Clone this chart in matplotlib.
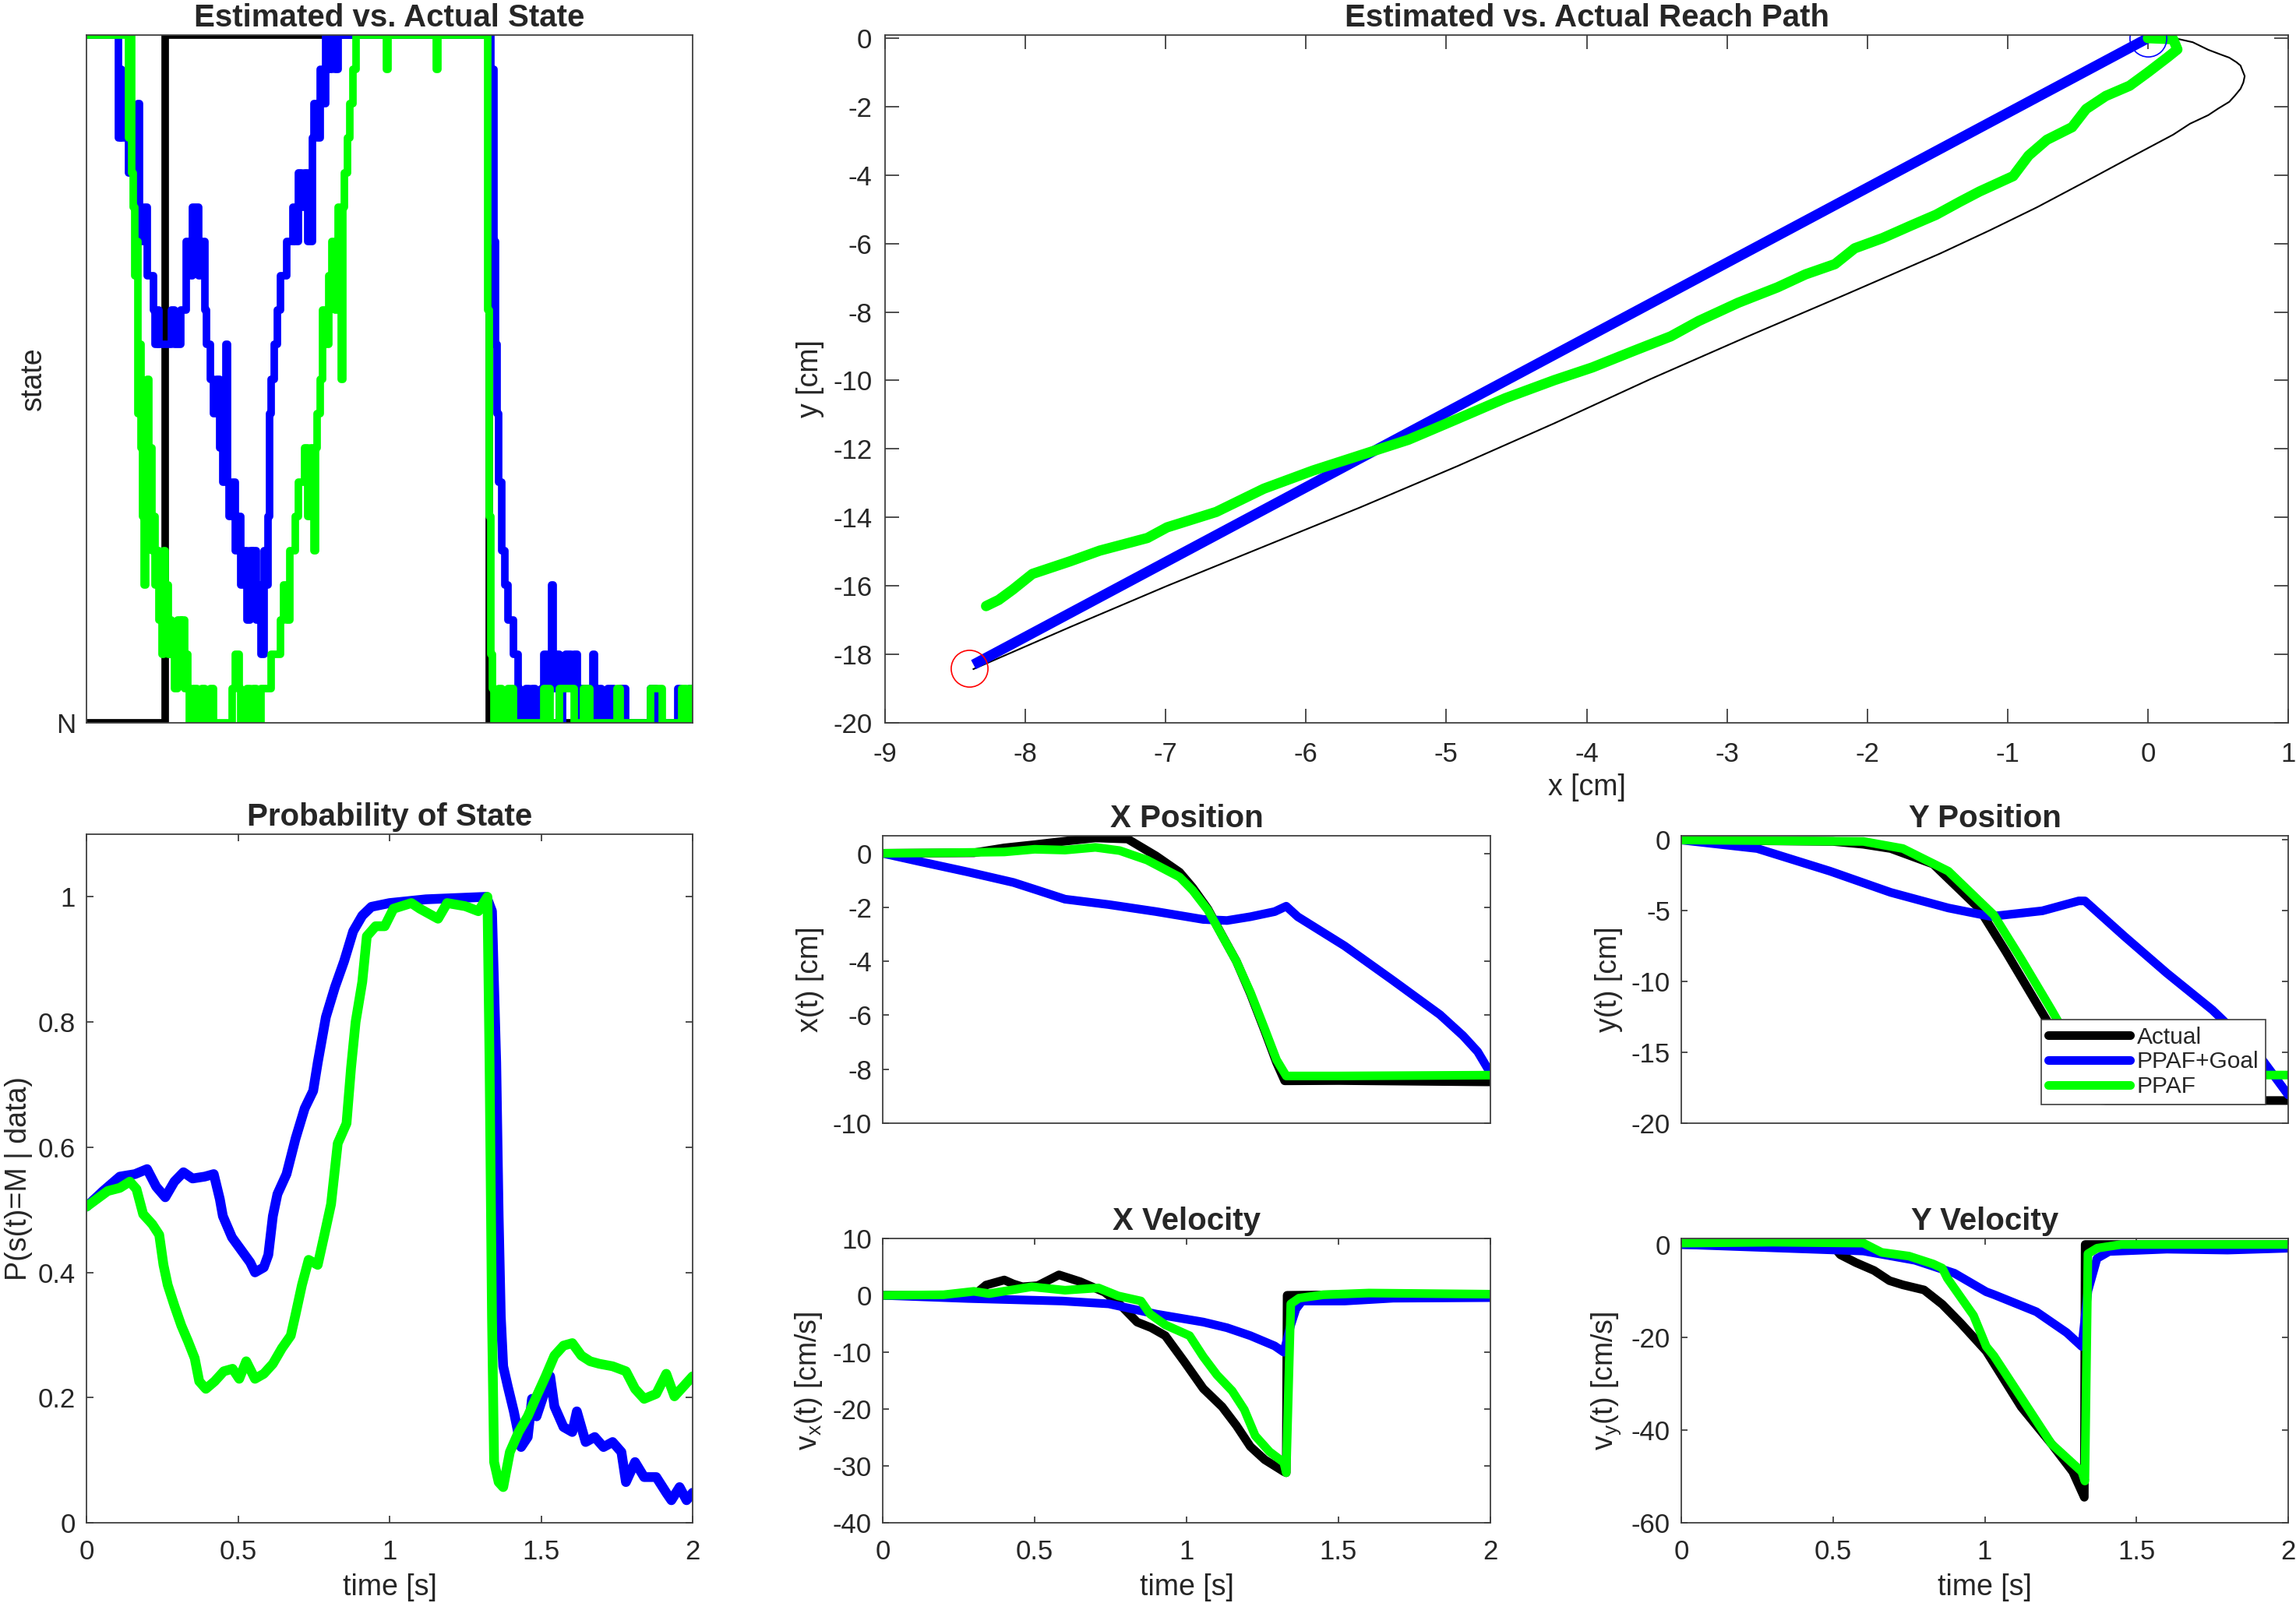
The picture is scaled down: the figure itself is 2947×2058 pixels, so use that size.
import matplotlib.pyplot as plt
import numpy as np

plt.rcParams['font.family'] = ['Liberation Sans', 'DejaVu Sans']
plt.rcParams['axes.unicode_minus'] = False
plt.rcParams['mathtext.default'] = 'regular'

# ---------------- datos ----------------
# estado real / estimado (escalones)
t_estado_real = [0, 0.26, 0.26, 1.328, 1.328, 2.0]
estado_real = [0, 0, 1, 1, 0, 0]

t_estado_goal = [0, 0.105, 0.11, 0.115, 0.12, 0.14, 0.145, 0.17, 0.175, 0.18, 0.19, 0.2, 0.205, 0.22,
                 0.225, 0.235, 0.24, 0.25, 0.28, 0.29, 0.31, 0.33, 0.345, 0.35, 0.37, 0.375, 0.39, 0.395,
                 0.41, 0.42, 0.43, 0.44, 0.45, 0.46, 0.465, 0.47, 0.48, 0.49, 0.5, 0.51, 0.52, 0.53, 0.54,
                 0.545, 0.55, 0.56, 0.57, 0.575, 0.585, 0.59, 0.6, 0.605, 0.61, 0.62, 0.63, 0.64, 0.66,
                 0.68, 0.69, 0.7, 0.71, 0.72, 0.73, 0.745, 0.75, 0.76, 0.77, 0.78, 0.79, 0.8, 0.81, 0.82,
                 0.83, 0.84, 1.335, 1.345, 1.35, 1.355, 1.36, 1.37, 1.38, 1.39, 1.41, 1.425, 1.43, 1.45,
                 1.46, 1.47, 1.48, 1.5, 1.51, 1.52, 1.535, 1.54, 1.55, 1.56, 1.57, 1.58, 1.6, 1.61, 1.62,
                 1.63, 1.66, 1.67, 1.675, 1.69, 1.7, 1.72, 1.74, 1.76, 1.78, 1.86, 1.88, 1.95, 1.96, 1.99, 2.0]
estado_goal = [1.0, 0.85, 0.95, 0.85, 0.85, 0.8, 0.8, 0.9, 0.75, 0.7, 0.75, 0.65, 0.65, 0.6,
               0.55, 0.6, 0.55, 0.55, 0.6, 0.55, 0.6, 0.7, 0.65, 0.75, 0.65, 0.7, 0.6, 0.55,
               0.5, 0.45, 0.5, 0.4, 0.35, 0.55, 0.35, 0.3, 0.35, 0.25, 0.3, 0.2, 0.25, 0.15, 0.25,
               0.2, 0.25, 0.15, 0.2, 0.1, 0.25, 0.2, 0.3, 0.45, 0.5, 0.55, 0.6, 0.65, 0.7,
               0.75, 0.7, 0.8, 0.75, 0.8, 0.7, 0.85, 0.9, 0.85, 0.95, 0.9, 1.0, 0.95, 1.0, 0.95,
               1.0, 1.0, 0.95, 0.7, 0.55, 0.45, 0.35, 0.25, 0.2, 0.15, 0.1, 0.05, 0.0, 0.05,
               0.0, 0.05, 0.0, 0.05, 0.1, 0.05, 0.2, 0.05, 0.1, 0.0, 0.05, 0.1, 0.05, 0.1, 0.0,
               0.05, 0.0, 0.1, 0.0, 0.05, 0.0, 0.05, 0.0, 0.05, 0.0, 0.05, 0.0, 0.05, 0.0, 0.05, 0.0]

t_estado_ppaf = [0, 0.14, 0.145, 0.15, 0.155, 0.16, 0.165, 0.17, 0.175, 0.18, 0.185, 0.19, 0.195, 0.2,
                 0.205, 0.21, 0.215, 0.22, 0.225, 0.23, 0.24, 0.245, 0.25, 0.255, 0.26, 0.265, 0.27,
                 0.275, 0.28, 0.29, 0.3, 0.31, 0.315, 0.325, 0.33, 0.335, 0.34, 0.35, 0.365, 0.38, 0.39,
                 0.41, 0.42, 0.48, 0.49, 0.505, 0.51, 0.53, 0.54, 0.55, 0.56, 0.575, 0.58, 0.61, 0.64,
                 0.65, 0.66, 0.67, 0.69, 0.7, 0.72, 0.73, 0.74, 0.75, 0.755, 0.76, 0.77, 0.78, 0.79, 0.8,
                 0.81, 0.82, 0.83, 0.84, 0.845, 0.85, 0.86, 0.87, 0.88, 0.89, 0.99, 0.995, 1.155, 1.16,
                 1.325, 1.33, 1.335, 1.34, 1.345, 1.36, 1.37, 1.39, 1.41, 1.42, 1.51, 1.53, 1.56, 1.61,
                 1.64, 1.66, 1.75, 1.76, 1.86, 1.9, 1.965, 1.98, 1.99, 2.0]
estado_ppaf = [1.0, 0.85, 1.0, 0.8, 0.75, 0.65, 0.7, 0.45, 0.55, 0.4, 0.3, 0.2, 0.35, 0.5,
               0.3, 0.4, 0.25, 0.3, 0.2, 0.25, 0.15, 0.2, 0.1, 0.25, 0.15, 0.2, 0.1,
               0.15, 0.1, 0.05, 0.15, 0.1, 0.15, 0.05, 0.1, 0.05, 0.0, 0.05, 0.0, 0.05, 0.0,
               0.05, 0.0, 0.05, 0.1, 0.05, 0.0, 0.05, 0.0, 0.05, 0.0, 0.05, 0.05, 0.1, 0.15,
               0.2, 0.15, 0.25, 0.3, 0.35, 0.4, 0.3, 0.4, 0.25, 0.4, 0.45, 0.5, 0.6, 0.55, 0.65,
               0.7, 0.6, 0.75, 0.5, 0.75, 0.8, 0.85, 0.9, 0.95, 1.0, 0.95, 1.0, 0.95, 1.0,
               0.6, 0.3, 0.1, 0.05, 0.0, 0.05, 0.0, 0.05, 0.0, 0.0, 0.05, 0.0, 0.05, 0.0,
               0.05, 0.0, 0.05, 0.0, 0.05, 0.0, 0.05, 0.0, 0.05, 0.05]

# probabilidad P(s(t)=M | data)
t_prob_goal = [0, 0.055, 0.11, 0.16, 0.2, 0.23, 0.26, 0.29, 0.32, 0.35, 0.39, 0.42, 0.44, 0.45, 0.48,
               0.51, 0.54, 0.556, 0.585, 0.6, 0.615, 0.63, 0.66, 0.69, 0.72, 0.748, 0.763, 0.79, 0.82,
               0.85, 0.88, 0.91, 0.94, 1.0, 1.12, 1.32, 1.338, 1.352, 1.36, 1.367, 1.375, 1.39, 1.41,
               1.434, 1.456, 1.47, 1.485, 1.507, 1.53, 1.544, 1.574, 1.603, 1.618, 1.647, 1.677, 1.706,
               1.736, 1.765, 1.78, 1.81, 1.84, 1.88, 1.913, 1.93, 1.957, 1.98, 2.0]
prob_goal = [0.505, 0.53, 0.553, 0.557, 0.565, 0.537, 0.52, 0.545, 0.56, 0.55, 0.553, 0.557, 0.517, 0.49,
             0.456, 0.436, 0.416, 0.4, 0.408, 0.428, 0.49, 0.525, 0.557, 0.614, 0.662, 0.69, 0.735, 0.808,
             0.856, 0.897, 0.945, 0.97, 0.984, 0.99, 0.996, 1.0, 0.977, 0.735, 0.49, 0.33, 0.25, 0.218,
             0.178, 0.121, 0.137, 0.198, 0.17, 0.202, 0.234, 0.186, 0.153, 0.145, 0.178, 0.129, 0.137,
             0.121, 0.129, 0.113, 0.065, 0.097, 0.073, 0.073, 0.048, 0.036, 0.057, 0.036, 0.048]

t_prob_ppaf = [0, 0.07, 0.11, 0.143, 0.165, 0.187, 0.217, 0.24, 0.254, 0.268, 0.29, 0.313, 0.335, 0.357,
               0.372, 0.394, 0.423, 0.453, 0.482, 0.504, 0.527, 0.556, 0.585, 0.615, 0.645, 0.674, 0.689,
               0.711, 0.733, 0.763, 0.785, 0.807, 0.829, 0.858, 0.873, 0.888, 0.91, 0.925, 0.954, 0.984,
               1.013, 1.072, 1.1, 1.16, 1.19, 1.25, 1.293, 1.323, 1.33, 1.338, 1.345, 1.36, 1.375, 1.397,
               1.426, 1.456, 1.485, 1.515, 1.544, 1.574, 1.603, 1.633, 1.662, 1.692, 1.736, 1.78, 1.81,
               1.84, 1.88, 1.913, 1.94, 1.97, 2.0]
prob_ppaf = [0.505, 0.53, 0.535, 0.545, 0.533, 0.493, 0.477, 0.46, 0.412, 0.38, 0.347, 0.315, 0.29, 0.263,
             0.226, 0.214, 0.226, 0.242, 0.246, 0.23, 0.258, 0.23, 0.238, 0.254, 0.279, 0.299, 0.331,
             0.38, 0.42, 0.412, 0.46, 0.509, 0.606, 0.638, 0.727, 0.8, 0.864, 0.937, 0.953, 0.953,
             0.981, 0.99, 0.981, 0.965, 0.99, 0.985, 0.977, 1.0, 0.735, 0.33, 0.097, 0.065, 0.057, 0.113,
             0.145, 0.17, 0.202, 0.234, 0.267, 0.283, 0.287, 0.267, 0.258, 0.254, 0.25, 0.242, 0.214,
             0.198, 0.206, 0.238, 0.202, 0.218, 0.234]

# trayectoria (x, y) en cm
x_tray_real = [0, 0.19, 0.32, 0.43, 0.52, 0.58, 0.63, 0.66, 0.69, 0.68, 0.66, 0.62, 0.58, 0.5, 0.43, 0.3,
               0.18, -0.1, -0.44, -0.79, -1.13, -1.48, -2.16, -2.85, -3.54, -4.23, -4.92, -5.61, -6.3,
               -6.99, -7.68, -8.37]
y_tray_real = [0, 0.0, -0.12, -0.34, -0.48, -0.57, -0.7, -0.8, -1.11, -1.3, -1.48, -1.68, -1.86, -2.06,
               -2.25, -2.5, -2.82, -3.43, -4.18, -4.94, -5.62, -6.29, -7.5, -8.71, -9.95, -11.25, -12.5,
               -13.7, -14.85, -16.0, -17.2, -18.43]
x_tray_goal = [0, -8.37]
y_tray_goal = [0, -18.3]
x_tray_ppaf = [0, 0.18, 0.21, 0.14, 0.0, -0.13, -0.3, -0.44, -0.54, -0.72, -0.85, -0.96, -1.2, -1.34, -1.51,
               -1.68, -1.89, -2.09, -2.23, -2.44, -2.64, -2.92, -3.2, -3.4, -3.68, -3.96, -4.23, -4.58, -4.92,
               -5.27, -5.61, -5.95, -6.3, -6.64, -6.99, -7.13, -7.47, -7.68, -7.95, -8.09, -8.19, -8.28]
y_tray_ppaf = [0, -0.03, -0.33, -0.56, -1.0, -1.39, -1.69, -2.07, -2.6, -2.97, -3.43, -4.03, -4.48, -4.78,
               -5.16, -5.46, -5.84, -6.14, -6.6, -6.9, -7.28, -7.73, -8.26, -8.71, -9.16, -9.62, -9.99,
               -10.52, -11.12, -11.73, -12.18, -12.63, -13.16, -13.84, -14.29, -14.6, -14.97, -15.28,
               -15.65, -16.11, -16.41, -16.59]
inicio = (0.0, 0.0)
objetivo = (-8.4, -18.4)

# posicion x(t)
t_x_real = [0, 0.3, 0.4, 0.5, 0.6, 0.7, 0.806, 0.9, 0.977, 1.02, 1.07, 1.117, 1.164, 1.21, 1.257, 1.296,
            1.323, 1.5, 1.7, 2.0]
x_real = [0, 0.02, 0.2, 0.32, 0.45, 0.57, 0.53, -0.1, -0.7, -1.27, -2.06, -3.04, -4.0, -5.2, -6.57, -7.75,
          -8.43, -8.42, -8.44, -8.47]
t_x_goal = [0, 0.12, 0.28, 0.43, 0.51, 0.6, 0.744, 0.9, 1.055, 1.133, 1.21, 1.29, 1.328, 1.366, 1.52,
            1.678, 1.834, 1.91, 1.958, 2.0]
x_goal = [0, -0.3, -0.69, -1.08, -1.37, -1.7, -1.9, -2.16, -2.45, -2.49, -2.35, -2.16, -1.96, -2.35, -3.43,
          -4.7, -5.98, -6.76, -7.35, -8.14]
t_x_ppaf = [0, 0.2, 0.4, 0.5, 0.6, 0.7, 0.78, 0.87, 0.977, 1.02, 1.07, 1.117, 1.164, 1.21, 1.257, 1.296,
            1.328, 1.5, 2.0]
x_ppaf = [0, 0.02, 0.05, 0.15, 0.12, 0.22, 0.1, -0.25, -0.88, -1.37, -2.1, -3.05, -4.0, -5.15, -6.5, -7.65,
          -8.25, -8.25, -8.22]

# velocidad x
t_vx_real = [0, 0.3, 0.34, 0.4, 0.43, 0.46, 0.51, 0.58, 0.65, 0.73, 0.775, 0.837, 0.884, 0.93, 0.993, 1.055,
             1.117, 1.164, 1.21, 1.257, 1.32, 1.328, 1.331, 1.5, 2.0]
vx_real = [0, 0, 1.8, 2.7, 2.0, 1.5, 1.7, 3.6, 2.4, 0.56, -1.3, -4.7, -5.7, -7.1, -11.7, -16.4, -19.6, -22.9,
           -26.6, -28.9, -31.0, -31.2, 0, 0.1, 0.0]
t_vx_goal = [0, 0.28, 0.59, 0.744, 0.9, 1.055, 1.133, 1.21, 1.29, 1.32, 1.343, 1.36, 1.38, 1.52, 1.68, 2.0]
vx_goal = [0, -0.55, -1.0, -1.5, -3.3, -4.7, -5.7, -7.1, -8.9, -10.0, -5.2, -2.4, -1.0, -1.0, -0.5, -0.4]
t_vx_ppaf = [0, 0.2, 0.3, 0.35, 0.49, 0.6, 0.71, 0.775, 0.85, 0.88, 0.93, 1.01, 1.055, 1.1, 1.15, 1.19,
             1.226, 1.273, 1.32, 1.328, 1.343, 1.37, 1.45, 1.6, 2.0]
vx_ppaf = [0, 0.1, 0.7, 0.3, 1.5, 0.9, 1.3, -0.1, -1.0, -3.3, -5.2, -7.1, -10.8, -14.0, -16.8, -20.1, -24.7,
           -27.5, -29.4, -31.2, -1.5, -0.5, 0.1, 0.4, 0.2]

# posicion y(t)
t_y_real = [0, 0.5, 0.6, 0.69, 0.83, 0.98, 1.07, 1.17, 1.27, 1.33, 1.4, 2.0]
y_real = [0, -0.1, -0.3, -0.6, -1.7, -4.8, -7.9, -11.5, -15.1, -18.3, -18.4, -18.4]
t_y_goal = [0, 0.25, 0.49, 0.69, 0.88, 1.02, 1.19, 1.31, 1.33, 1.46, 1.6, 1.75, 1.9, 2.0]
y_goal = [0, -0.6, -2.2, -3.7, -4.8, -5.4, -5.0, -4.3, -4.3, -6.8, -9.4, -12.0, -15.1, -18.0]
t_y_ppaf = [0, 0.6, 0.73, 0.88, 1.03, 1.12, 1.22, 1.3, 1.335, 2.0]
y_ppaf = [0, -0.1, -0.6, -2.2, -5.3, -8.4, -12.0, -15.0, -16.6, -16.6]

# velocidad y
t_vy_real = [0, 0.5, 0.524, 0.575, 0.635, 0.686, 0.73, 0.8, 0.86, 0.92, 1.005, 1.12, 1.22, 1.29, 1.328,
             1.331, 1.5, 2.0]
vy_real = [0, -0.3, -2.2, -3.9, -5.6, -7.8, -8.7, -9.8, -12.9, -16.9, -23, -35, -43, -49, -54.5, 0, 0, 0]
t_vy_goal = [0, 0.34, 0.6, 0.77, 0.9, 1.005, 1.03, 1.17, 1.27, 1.32, 1.34, 1.37, 1.41, 1.6, 1.8, 2.0]
vy_goal = [0, -0.8, -1.4, -3.4, -6.2, -10.2, -10.8, -14.5, -19, -22, -10, -3, -1.5, -1.0, -1.2, -0.8]
t_vy_ppaf = [0, 0.3, 0.6, 0.66, 0.75, 0.83, 0.86, 0.877, 0.92, 0.963, 1.005, 1.03, 1.12, 1.22, 1.32, 1.33,
             1.34, 1.37, 1.45, 2.0]
vy_ppaf = [0.3, 0.5, 0.3, -1.7, -2.5, -4.2, -5.1, -7.3, -11.3, -15.3, -22, -24, -33, -43, -49, -51, -2,
           -0.8, 0, 0]

etiquetas = ['Actual', 'PPAF+Goal', 'PPAF']
t_ticks = [0, 0.5, 1, 1.5, 2]
t_labels = ['0', '0.5', '1', '1.5', '2']

# ---------------- figura ----------------
W, H = 2947, 2058
fig = plt.figure(figsize=(W / 100, H / 100), dpi=100)
gris = '#404040'
texto = '#262626'


def ejes(x0, y0, x1, y1):
    return fig.add_axes([x0 / W, 1 - y1 / H, (x1 - x0) / W, (y1 - y0) / H])


def estilo(ax, largo, titulo):
    for s in ax.spines.values():
        s.set_color(gris)
        s.set_linewidth(1.3)
    ax.tick_params(direction='in', length=largo, width=1.3, color=gris, labelcolor=texto,
                   labelsize=25, top=True, right=True)
    ax.tick_params(axis='x', pad=15)
    ax.tick_params(axis='y', pad=10)
    ax.set_title(titulo, fontsize=29, fontweight='bold', color=texto, pad=8)


def lineas(ax, datos, lw=8):
    colores = ['black', (0, 0, 1), (0, 1, 0)]
    hs = []
    for (t, v), c, lab in zip(datos, colores, etiquetas):
        h, = ax.plot(t, v, color=c, lw=lw, label=lab, solid_joinstyle='round', solid_capstyle='round')
        hs.append(h)
    return hs


# estado
ax1 = ejes(111, 45, 889, 928)
lineas(ax1, [(t_estado_real, estado_real), (t_estado_goal, estado_goal), (t_estado_ppaf, estado_ppaf)], lw=7)
for l in ax1.lines:
    l.set_drawstyle('steps-post')
ax1.set_xlim(0, 2)
ax1.set_ylim(0, 1)
ax1.set_xticks([])
ax1.set_yticks([0])
ax1.set_yticklabels(['N'])
estilo(ax1, 0, 'Estimated vs. Actual State')
ax1.tick_params(length=0)
ax1.set_ylabel('state', fontsize=27, color=texto, labelpad=8)

# trayectoria
ax2 = ejes(1136, 45, 2937, 928)
ax2.plot(x_tray_real, y_tray_real, color='black', lw=1.5)
ax2.plot(x_tray_goal, y_tray_goal, color=(0, 0, 1), lw=9.5, solid_capstyle='butt')
ax2.plot(x_tray_ppaf, y_tray_ppaf, color=(0, 1, 0), lw=9.5, solid_joinstyle='round', solid_capstyle='round')
ax2.plot(*inicio, 'o', ms=34, mfc='none', mec=(0, 0, 1), mew=1.2)
ax2.plot(*objetivo, 'o', ms=34, mfc='none', mec='red', mew=1.2)
ax2.set_xlim(-9, 1)
ax2.set_ylim(-20, 0.09)
ax2.set_xticks(range(-9, 2))
ax2.set_yticks(range(-20, 1, 2))
estilo(ax2, 13, 'Estimated vs. Actual Reach Path')
ax2.tick_params(axis='x', pad=17)
ax2.tick_params(axis='y', pad=12)
ax2.set_xlabel('x [cm]', fontsize=27, color=texto, labelpad=6)
ax2.set_ylabel('y [cm]', fontsize=27, color=texto, labelpad=8)

# probabilidad
ax3 = ejes(111, 1071, 889, 1955)
lineas(ax3, [([], []), (t_prob_goal, prob_goal), (t_prob_ppaf, prob_ppaf)], lw=9)
ax3.set_xlim(0, 2)
ax3.set_ylim(0, 1.1)
ax3.set_xticks(t_ticks)
ax3.set_xticklabels(t_labels)
ax3.set_yticks([0, 0.2, 0.4, 0.6, 0.8, 1])
ax3.set_yticklabels(['0', '0.2', '0.4', '0.6', '0.8', '1'])
estilo(ax3, 6.5, 'Probability of State')
ax3.set_xlabel('time [s]', fontsize=27, color=texto, labelpad=8)
ax3.set_ylabel('P(s(t)=M | data)', fontsize=27, color=texto, labelpad=5)

# posicion x
ax4 = ejes(1133, 1073, 1913, 1442)
lineas(ax4, [(t_x_real, x_real), (t_x_goal, x_goal), (t_x_ppaf, x_ppaf)])
ax4.set_xlim(0, 2)
ax4.set_ylim(-10, 0.65)
ax4.set_xticks([])
ax4.set_yticks(range(-10, 1, 2))
estilo(ax4, 5.6, 'X Position')
ax4.set_ylabel('x(t) [cm]', fontsize=27, color=texto, labelpad=8)

# velocidad x
ax5 = ejes(1133, 1590, 1913, 1955)
lineas(ax5, [(t_vx_real, vx_real), (t_vx_goal, vx_goal), (t_vx_ppaf, vx_ppaf)])
ax5.set_xlim(0, 2)
ax5.set_ylim(-40, 10)
ax5.set_xticks(t_ticks)
ax5.set_xticklabels(t_labels)
ax5.set_yticks(range(-40, 11, 10))
estilo(ax5, 5.6, 'X Velocity')
ax5.set_xlabel('time [s]', fontsize=27, color=texto, labelpad=8)
ax5.set_ylabel('v$_{x}$(t) [cm/s]', fontsize=27, color=texto, labelpad=8)

# posicion y
ax6 = ejes(2158, 1073, 2937, 1442)
hs = lineas(ax6, [(t_y_real, y_real), (t_y_goal, y_goal), (t_y_ppaf, y_ppaf)])
ax6.set_xlim(0, 2)
ax6.set_ylim(-20, 0.3)
ax6.set_xticks([])
ax6.set_yticks(range(-20, 1, 5))
estilo(ax6, 5.6, 'Y Position')
ax6.set_ylabel('y(t) [cm]', fontsize=27, color=texto, labelpad=8)
leg = ax6.legend(handles=hs, loc='lower right', bbox_to_anchor=(0.963, 0.065), borderaxespad=0,
                 fontsize=21.5, handlelength=3.5, handletextpad=0.3, labelspacing=0.12, borderpad=0.3,
                 fancybox=False, framealpha=1, edgecolor=gris)
leg.get_frame().set_linewidth(1.2)
for txt in leg.get_texts():
    txt.set_color(texto)

# velocidad y
ax7 = ejes(2158, 1590, 2937, 1955)
lineas(ax7, [(t_vy_real, vy_real), (t_vy_goal, vy_goal), (t_vy_ppaf, vy_ppaf)])
ax7.set_xlim(0, 2)
ax7.set_ylim(-60, 1.3)
ax7.set_xticks(t_ticks)
ax7.set_xticklabels(t_labels)
ax7.set_yticks(range(-60, 1, 20))
estilo(ax7, 5.6, 'Y Velocity')
ax7.set_xlabel('time [s]', fontsize=27, color=texto, labelpad=8)
ax7.set_ylabel('v$_{y}$(t) [cm/s]', fontsize=27, color=texto, labelpad=8)

fig.savefig('out.png', dpi=100)
